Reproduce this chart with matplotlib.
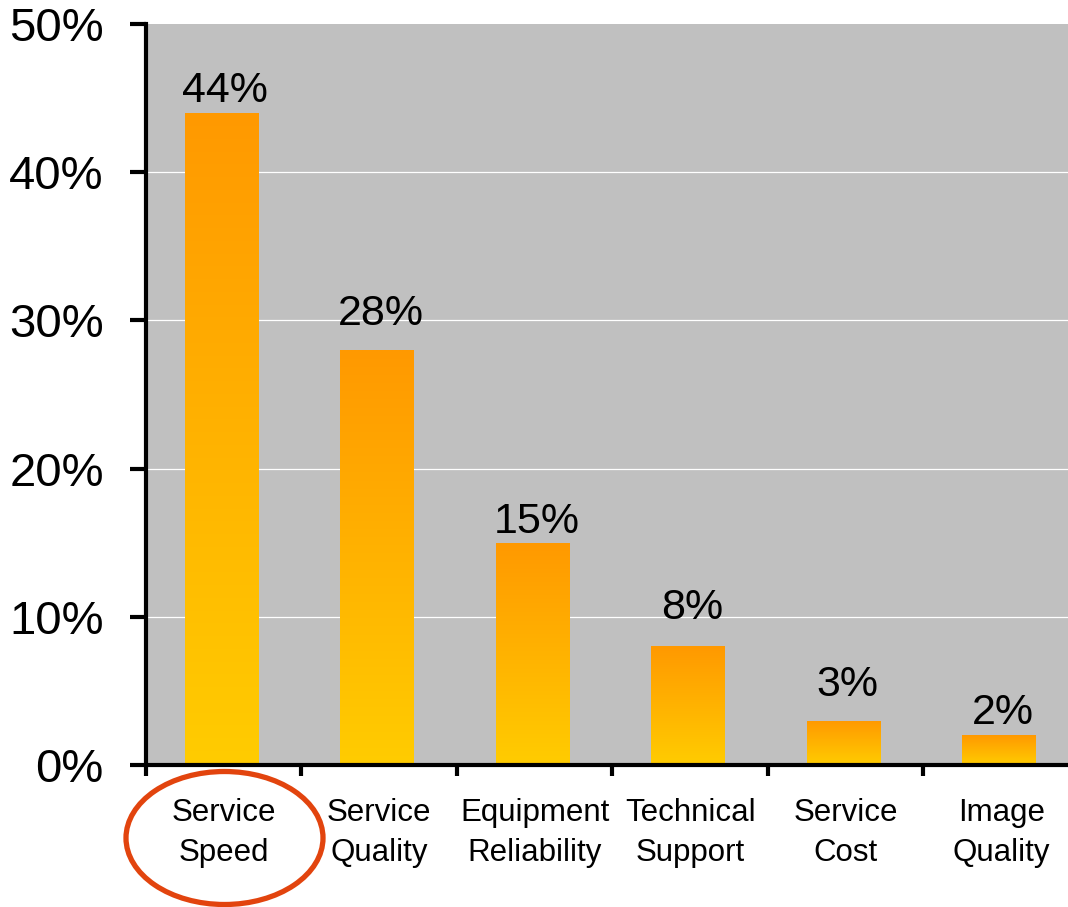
import numpy as np
import matplotlib
matplotlib.use("Agg")
import matplotlib.pyplot as plt
from matplotlib.colors import LinearSegmentedColormap
from matplotlib.patches import Ellipse
from matplotlib.ticker import FixedLocator, NullFormatter

# Survey results: share of respondents naming each factor
categories = ["Service\nSpeed", "Service\nQuality", "Equipment\nReliability",
              "Technical\nSupport", "Service\nCost", "Image\nQuality"]
shares = [44, 28, 15, 8, 3, 2]
y_ticks = [0, 10, 20, 30, 40, 50]
y_tick_labels = ["0%", "10%", "20%", "30%", "40%", "50%"]

# vertical gap (points) between each bar top and its value label
label_offsets = [8, 18, 7, 20, 18, 8]

plt.rcParams["font.family"] = ["Liberation Sans", "DejaVu Sans"]

fig = plt.figure(figsize=(10.68, 9.07), dpi=100)
fig.patch.set_facecolor("white")
ax = fig.add_axes([146 / 1068, 1 - 765 / 907, 933 / 1068, 741 / 907])
ax.set_facecolor("#C0C0C0")

x = np.arange(len(categories))

# white horizontal grid lines
for yv in y_ticks[1:-1]:
    ax.axhline(yv, color="white", lw=0.9, zorder=1)

# bars with vertical orange gradient
cmap = LinearSegmentedColormap.from_list("orange_grad", ["#FFCC00", "#FF9900"])
grad = np.linspace(0, 1, 256).reshape(-1, 1)
bar_width = 0.47
bars = ax.bar(x - 0.016, shares, width=bar_width, color="none",
              edgecolor="none", zorder=2)
for b in bars:
    x0, w, h = b.get_x(), b.get_width(), b.get_height()
    im = ax.imshow(grad, cmap=cmap, origin="lower", aspect="auto",
                   extent=(x0, x0 + w, 0, h), zorder=2,
                   interpolation="bilinear")
    im.set_clip_path(b)
ax.set_xlim(-0.5, len(categories) - 0.5)
ax.set_ylim(0, 50)

# value labels above bars
for xi, v, off in zip(x, shares, label_offsets):
    ax.annotate(f"{v}%", xy=(xi + 0.01, v), xytext=(0, off),
                textcoords="offset points", ha="center", va="baseline",
                fontsize=31, color="black", zorder=3)

# spines
for side in ("top", "right"):
    ax.spines[side].set_visible(False)
for side in ("left", "bottom"):
    ax.spines[side].set_linewidth(3)
    ax.spines[side].set_color("black")
    ax.spines[side].set_zorder(4)

# y axis
ax.set_yticks(y_ticks)
ax.set_yticklabels(y_tick_labels, fontsize=34)
ax.tick_params(axis="y", direction="out", length=11.5, width=3, pad=19)

# x axis: boundary ticks, centred category labels
ax.xaxis.set_major_locator(FixedLocator(np.arange(-0.5, len(categories) + 0.5, 1)))
ax.xaxis.set_major_formatter(NullFormatter())
ax.xaxis.set_minor_locator(FixedLocator(x))
ax.set_xticklabels(categories, minor=True, fontsize=22.5, linespacing=1.4)
ax.tick_params(axis="x", which="major", direction="out", length=8, width=3)
ax.tick_params(axis="x", which="minor", length=0, pad=24)

# highlight ring around the top factor
ring = Ellipse((224.5 / 1068, 1 - 838 / 907), 197 / 1068, 133 / 907,
               transform=fig.transFigure, fill=False,
               edgecolor="#E2440E", lw=3.8, zorder=10)
fig.add_artist(ring)

fig.savefig("out.png", dpi=100, facecolor="white")
